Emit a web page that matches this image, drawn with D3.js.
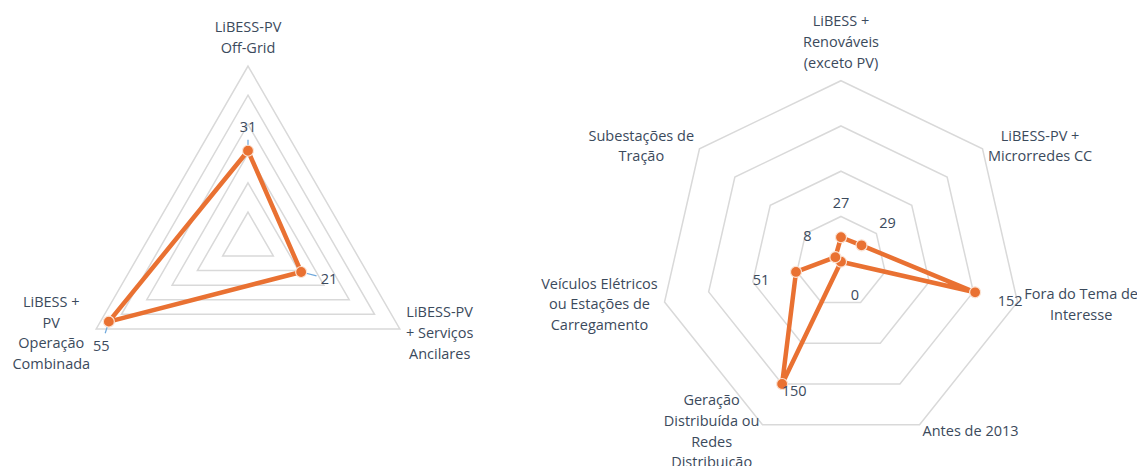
<!DOCTYPE html>
<html>
<head>
<meta charset="utf-8">
<script src="https://cdn.jsdelivr.net/npm/d3@7"></script>
<style>
  body { margin: 0; background: #fff; }
  text { font-family: "Open Sans", sans-serif; fill: #3b4a5c; }
</style>
</head>
<body>
<div id="chart"></div>
<script>
// left radar
var leftCategories = [
  ["LiBESS-PV", "Off-Grid"],
  ["LiBESS-PV", "+ Serviços", "Ancilares"],
  ["LiBESS +", "PV", "Operação", "Combinada"]
];
var leftValues = [31, 21, 55];
var leftTicks = [10, 20, 30, 40, 50, 60];

// right radar
var rightCategories = [
  ["LiBESS +", "Renováveis", "(exceto PV)"],
  ["LiBESS-PV +", "Microrredes CC"],
  ["Fora do Tema de", "Interesse"],
  ["Antes de 2013"],
  ["Geração", "Distribuída ou", "Redes", "Distribuição"],
  ["Veículos Elétricos", "ou Estações de", "Carregamento"],
  ["Subestações de", "Tração"]
];
var rightValues = [27, 29, 152, 0, 150, 51, 8];
var rightTicks = [50, 100, 150, 200];

var svgWidth = 1137;
var svgHeight = 466;
var orange = "#e97132";
var lineHeight = 20.7;

var svg = d3.select("#chart")
  .append("svg")
  .attr("width", svgWidth)
  .attr("height", svgHeight);

function drawRadar(opts) {
  var n = opts.categories.length;
  var g = svg.append("g")
    .attr("transform", `translate(${opts.cx}, ${opts.cy})`);

  var rScale = d3.scaleLinear()
    .domain([0, d3.max(opts.ticks)])
    .range([0, opts.radius]);

  var aScale = d3.scaleLinear()
    .domain([0, n])
    .range([0, 2 * Math.PI]);

  var idx = d3.range(n);

  // grid rings
  g.selectAll(".ring")
    .data(opts.ticks)
    .enter()
    .append("path")
    .attr("class", "ring")
    .attr("d", function(t) {
      return d3.lineRadial()
        .angle(i => aScale(i))
        .radius(rScale(t))
        .curve(d3.curveLinearClosed)(idx);
    })
    .attr("fill", "none")
    .attr("stroke", "#d9d9d9")
    .attr("stroke-width", 1.5);

  var pts = opts.values.map((v, i) => d3.pointRadial(aScale(i), rScale(v)));
  var labelPts = pts.map((p, i) => [p[0] + opts.labelOffsets[i][0], p[1] + opts.labelOffsets[i][1]]);

  // leader lines
  if (opts.leaders) {
    g.selectAll(".leader")
      .data(pts)
      .enter()
      .append("line")
      .attr("x1", d => d[0])
      .attr("y1", d => d[1])
      .attr("x2", function(d, i) {
        var l = labelPts[i], dx = l[0] - d[0], dy = l[1] - d[1];
        var len = Math.hypot(dx, dy);
        return d[0] + dx * (len - 13) / len;
      })
      .attr("y2", function(d, i) {
        var l = labelPts[i], dx = l[0] - d[0], dy = l[1] - d[1];
        var len = Math.hypot(dx, dy);
        return d[1] + dy * (len - 13) / len;
      })
      .attr("stroke", "#6fa8dc")
      .attr("stroke-width", 1.2);
  }

  // series line
  g.append("path")
    .datum(opts.values)
    .attr("d", d3.lineRadial()
      .angle((d, i) => aScale(i))
      .radius(d => rScale(d))
      .curve(d3.curveLinearClosed))
    .attr("fill", "none")
    .attr("stroke", orange)
    .attr("stroke-width", 4.5)
    .attr("stroke-linejoin", "round");

  g.selectAll(".marker")
    .data(pts)
    .enter()
    .append("circle")
    .attr("cx", d => d[0])
    .attr("cy", d => d[1])
    .attr("r", 5.5)
    .attr("fill", orange)
    .attr("stroke", "#fbe3d4")
    .attr("stroke-width", 1.2);

  // data labels
  g.selectAll(".dlabel")
    .data(opts.values)
    .enter()
    .append("text")
    .attr("x", (d, i) => labelPts[i][0])
    .attr("y", (d, i) => labelPts[i][1])
    .attr("text-anchor", "middle")
    .attr("dominant-baseline", "central")
    .style("font-size", "14.5px")
    .text(d => d);

  // category labels
  opts.categories.forEach(function(lines, i) {
    var a = aScale(i);
    var s = Math.sin(a), c = Math.cos(a);
    var v = d3.pointRadial(a, opts.radius);
    var t = g.append("text")
      .attr("text-anchor", "middle")
      .attr("dominant-baseline", "central")
      .style("font-size", "14.5px");
    var spans = lines.map(l => t.append("tspan").text(l));
    var w = d3.max(spans, sp => sp.node().getComputedTextLength());
    var x, y0;
    if (Math.abs(s) < 0.05) {
      x = v[0];
      y0 = v[1] - 19 - (lines.length - 1) * lineHeight;
    } else {
      var gap = 7 * Math.abs(s);
      x = s > 0 ? v[0] + gap + w / 2 : v[0] - gap - w / 2;
      var yc = v[1] - 6 * c;
      y0 = yc - (lines.length - 1) * lineHeight / 2;
    }
    spans.forEach(function(sp, k) {
      sp.attr("x", x).attr("y", y0 + k * lineHeight);
    });
  });
}

drawRadar({
  categories: leftCategories,
  values: leftValues,
  ticks: leftTicks,
  cx: 248, cy: 241.3, radius: 175.3,
  labelOffsets: [[0, -24], [28, 7], [-7.5, 24]],
  leaders: true
});

drawRadar({
  categories: rightCategories,
  values: rightValues,
  ticks: rightTicks,
  cx: 841, cy: 261.7, radius: 181,
  labelOffsets: [[0, -35], [26, -23], [35, 8], [14, 33], [12, 7], [-35, 8], [-28, -22]],
  leaders: false
});
</script>
</body>
</html>
